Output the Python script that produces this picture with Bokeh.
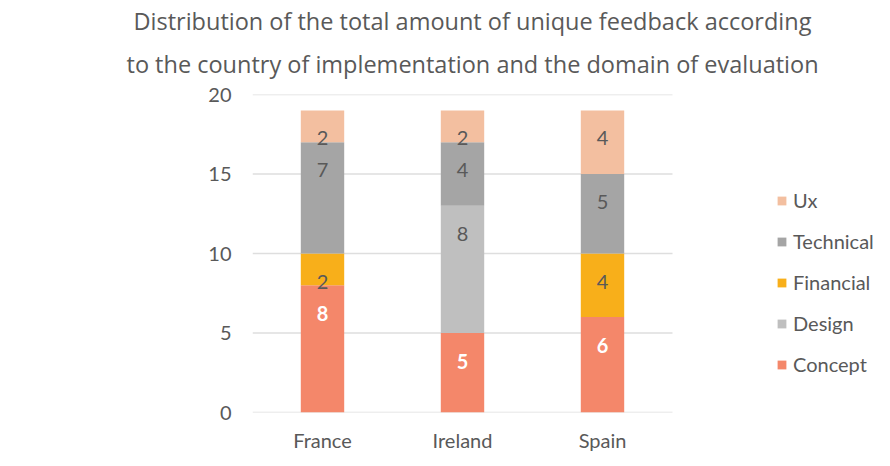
from bokeh.plotting import figure
from bokeh.models import (ColumnDataSource, Legend, LegendItem, Title,
                          Range1d, FixedTicker)
from bokeh.embed import file_html
from bokeh.resources import INLINE
from bokeh.core.properties import value

countries = ["France", "Ireland", "Spain"]
domains = ["Concept", "Design", "Financial", "Technical", "Ux"]
concept = [8, 5, 6]
design = [0, 8, 0]
financial = [2, 0, 4]
technical = [7, 4, 5]
ux = [2, 2, 4]
y_ticks = [0, 5, 10, 15, 20]
title_lines = ["Distribution of the total amount of unique feedback according",
               "to the country of implementation and the domain of evaluation"]

colors = ["#F4876A", "#BFBFBF", "#F8AF1A", "#A5A5A5", "#F3BFA0"]
FONT = "Lato"
TITLE_FONT = "Open Sans"
TXT = "#595959"

xpos = [i + 0.5 for i in range(len(countries))]
series = dict(zip(domains, [concept, design, financial, technical, ux]))
data = {"x": xpos}
data.update(series)
source = ColumnDataSource(data)

p = figure(x_range=Range1d(0, 638 / 140), y_range=Range1d(0, 20), title=None,
           width=890, height=466, output_backend="svg", toolbar_location=None,
           min_border_left=252, min_border_right=0, min_border_top=94,
           min_border_bottom=54)

# horizontal gridlines across the category band only
p.segment(x0=0, x1=len(countries), y0=y_ticks, y1=y_ticks,
          line_color="#DEDEDE", line_width=1.5)

renderers = p.vbar_stack(domains, x="x", width=0.31, source=source,
                         fill_color=colors, line_color=None)

# data labels placed near the top of each segment
lab_x, lab_y, lab_t = [], [], []
wlab_x, wlab_y, wlab_t = [], [], []
for ci, xc in enumerate(xpos):
    cum = 0
    for d in domains:
        v = series[d][ci]
        cum += v
        if v > 0:
            if d == "Concept":
                wlab_x.append(xc); wlab_y.append(cum); wlab_t.append(str(v))
            else:
                lab_x.append(xc); lab_y.append(cum); lab_t.append(str(v))

p.text(x=lab_x, y=lab_y, text=lab_t, text_align="center", text_baseline="middle",
       y_offset=28, text_font=value(FONT), text_font_size="20px", text_color=TXT)
p.text(x=wlab_x, y=wlab_y, text=wlab_t, text_align="center", text_baseline="middle",
       y_offset=28, text_font=value(FONT), text_font_size="20px", text_color="white",
       text_font_style="bold")

# axes
for ax in (p.xaxis[0], p.yaxis[0]):
    ax.axis_line_color = None
    ax.major_tick_line_color = None
    ax.minor_tick_line_color = None
    ax.major_label_text_font = FONT
    ax.major_label_text_font_size = "20px"
    ax.major_label_text_color = TXT
p.yaxis.ticker = FixedTicker(ticks=y_ticks)
p.xaxis.ticker = FixedTicker(ticks=xpos)
p.xaxis.major_label_overrides = {x: c for x, c in zip(xpos, countries)}
p.yaxis.major_label_standoff = 15
p.xaxis.major_label_standoff = 9
p.xgrid.visible = False
p.ygrid.visible = False
p.outline_line_color = None

# legend
items = [LegendItem(label=d, renderers=[r]) for d, r in zip(domains, renderers)][::-1]
legend = Legend(items=items, location=(524, 36), glyph_width=11, glyph_height=11,
                label_height=24, spacing=17, label_standoff=6, padding=0, margin=0,
                border_line_color=None, background_fill_alpha=0,
                label_text_font=FONT, label_text_font_size="20px",
                label_text_color=TXT)
p.add_layout(legend, "center")

# title (two lines; second line nearest to the plot)
for line, off, so in zip(title_lines[::-1], [-126, -119], [29, -10]):
    p.add_layout(Title(text=line, align="left", offset=off, standoff=so,
                       text_font=TITLE_FONT, text_font_size="23.5px",
                       text_font_style="normal", text_color=TXT), "above")

open("out.html", "w").write(file_html(p, INLINE))
